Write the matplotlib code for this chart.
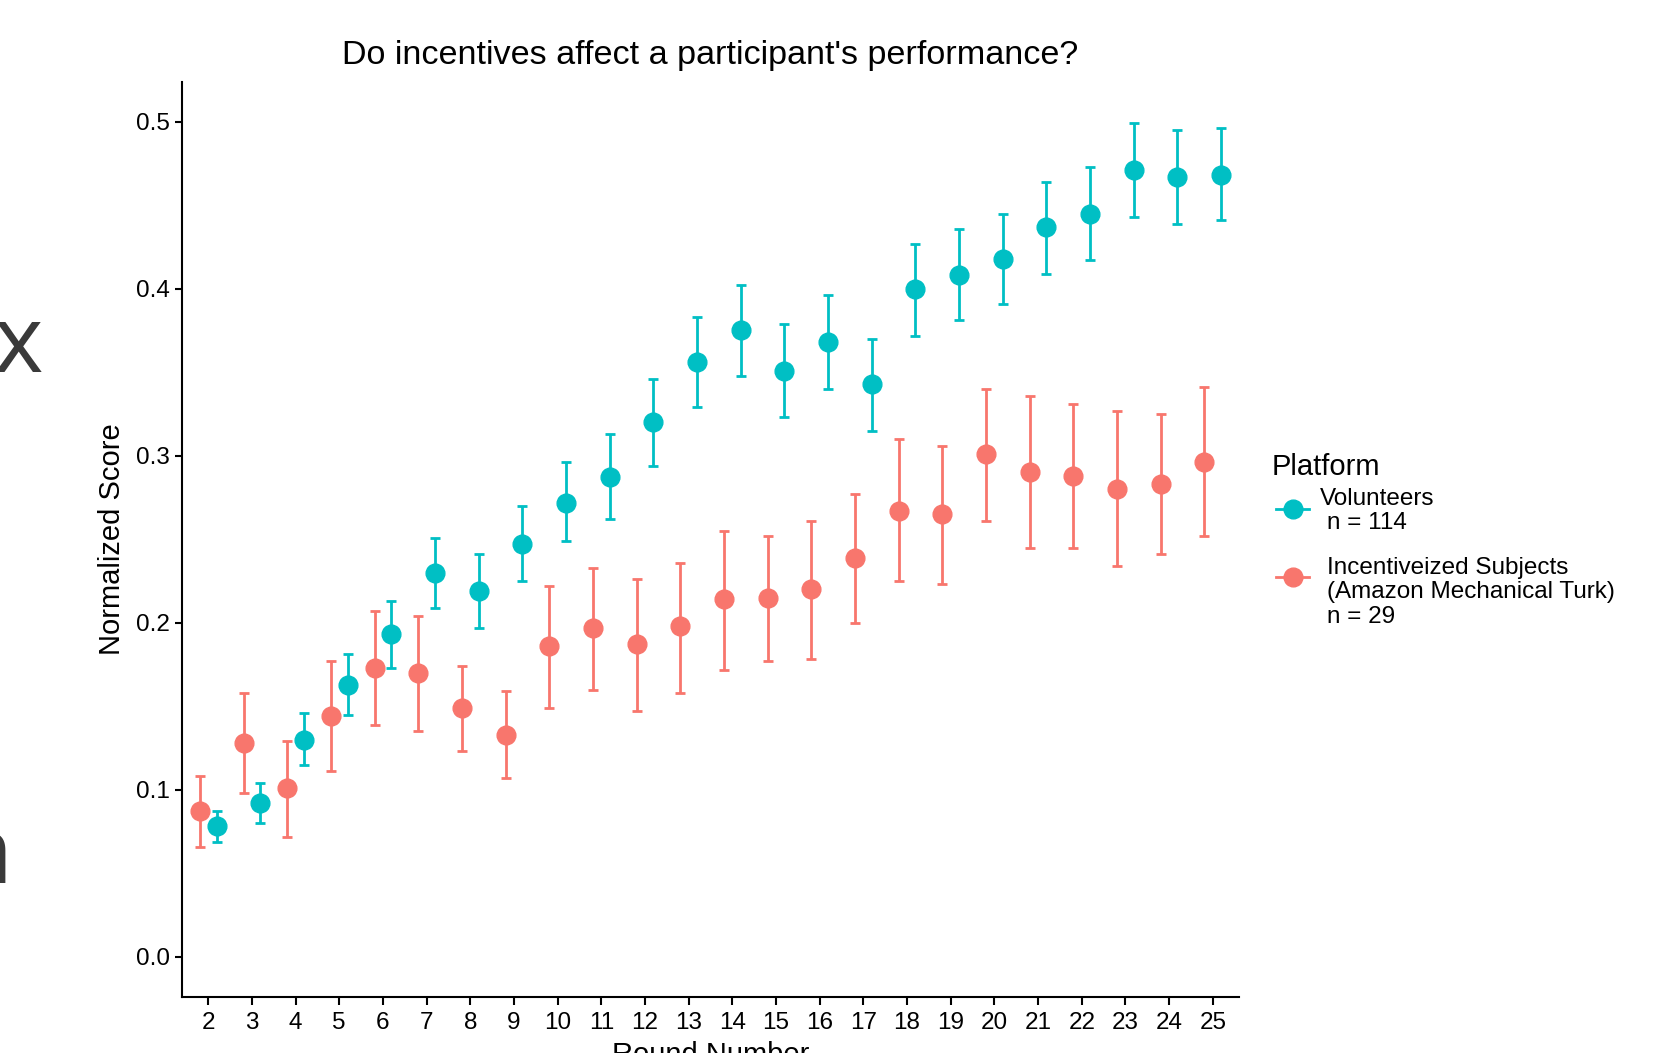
import numpy as np
import matplotlib
matplotlib.use("Agg")
import matplotlib.pyplot as plt
from matplotlib.lines import Line2D

plt.rcParams['font.family'] = ['Liberation Sans', 'DejaVu Sans']

# data
rounds = np.arange(2, 26)

vol_mean = [0.078, 0.092, 0.130, 0.163, 0.193, 0.230, 0.219, 0.247, 0.272, 0.287, 0.320, 0.356,
            0.375, 0.351, 0.368, 0.343, 0.400, 0.408, 0.418, 0.437, 0.445, 0.471, 0.467, 0.468]
vol_lo = [0.069, 0.080, 0.115, 0.145, 0.173, 0.209, 0.197, 0.225, 0.249, 0.262, 0.294, 0.329,
          0.348, 0.323, 0.340, 0.315, 0.372, 0.381, 0.391, 0.409, 0.417, 0.443, 0.439, 0.441]
vol_hi = [0.087, 0.104, 0.146, 0.181, 0.213, 0.251, 0.241, 0.270, 0.296, 0.313, 0.346, 0.383,
          0.402, 0.379, 0.396, 0.370, 0.427, 0.436, 0.445, 0.464, 0.473, 0.499, 0.495, 0.496]

inc_mean = [0.087, 0.128, 0.101, 0.144, 0.173, 0.170, 0.149, 0.133, 0.186, 0.197, 0.187, 0.198,
            0.214, 0.215, 0.220, 0.239, 0.267, 0.265, 0.301, 0.290, 0.288, 0.280, 0.283, 0.296]
inc_lo = [0.066, 0.098, 0.072, 0.111, 0.139, 0.135, 0.123, 0.107, 0.149, 0.160, 0.147, 0.158,
          0.172, 0.177, 0.178, 0.200, 0.225, 0.223, 0.261, 0.245, 0.245, 0.234, 0.241, 0.252]
inc_hi = [0.108, 0.158, 0.129, 0.177, 0.207, 0.204, 0.174, 0.159, 0.222, 0.233, 0.226, 0.236,
          0.255, 0.252, 0.261, 0.277, 0.310, 0.306, 0.340, 0.336, 0.331, 0.327, 0.325, 0.341]

teal = "#00BFC4"
red = "#F8766D"

W, H = 1659, 1053
fig = plt.figure(figsize=(W / 100, H / 100), dpi=100)

def fx(px):
    return px / W

def fy(py):
    return 1 - py / H

ax = fig.add_axes([fx(182), fy(997), (1239 - 182) / W, (997 - 81.5) / H])

dodge = 0.19
vm, inm = np.array(vol_mean), np.array(inc_mean)
ax.errorbar(rounds - dodge, inm, yerr=[inm - np.array(inc_lo), np.array(inc_hi) - inm],
            fmt='o', color=red, ms=13.5, elinewidth=2.0, capsize=3.9, capthick=2.0)
ax.errorbar(rounds + dodge, vm, yerr=[vm - np.array(vol_lo), np.array(vol_hi) - vm],
            fmt='o', color=teal, ms=13.5, elinewidth=2.0, capsize=3.9, capthick=2.0)

ax.set_xlim(1.4, 25.6)
ax.set_ylim(-0.0241, 0.5241)
ax.set_xticks(rounds)
ax.set_yticks([0.0, 0.1, 0.2, 0.3, 0.4, 0.5])
ax.set_yticklabels(["0.0", "0.1", "0.2", "0.3", "0.4", "0.5"])
ax.tick_params(labelsize=17.5, length=5.4, width=1.5, colors='black')
ax.tick_params(axis='x', pad=5.5)
ax.tick_params(axis='y', pad=3)
for s in ['top', 'right']:
    ax.spines[s].set_visible(False)
for s in ['left', 'bottom']:
    ax.spines[s].set_linewidth(1.5)

ax.set_title("Do incentives affect a participant's performance?", fontsize=24.6, pad=12.8)
ax.set_xlabel("Round Number", fontsize=21)
ax.set_ylabel("Normalized Score", fontsize=21)
ax.xaxis.set_label_coords(0.5, -0.048)
ax.yaxis.set_label_coords(-0.053, 0.5)

# legend drawn by hand to follow the reference layout
fig.text(fx(1272), fy(466.6), "Platform", fontsize=21, va='center', ha='left')
entries = [(teal, 509, [(1320, "Volunteers"), (1327, "n = 114")], 504.6),
           (red, 576.7, [(1327, "Incentiveized Subjects"), (1327, "(Amazon Mechanical Turk)"),
                         (1327, "n = 29")], 573.6)]
for col, ky, lines, base in entries:
    fig.add_artist(Line2D([fx(1276), fx(1309)], [fy(ky), fy(ky)], color=col, lw=2.0))
    fig.add_artist(Line2D([fx(1292.7)], [fy(ky)], marker='o', ms=13.5, color=col, lw=0))
    for i, (lx, txt) in enumerate(lines):
        fig.text(fx(lx), fy(base + 24.5 * i), txt, fontsize=17.5, va='baseline', ha='left')

# fragments of slide text cut by the left edge
fig.text(fx(43), fy(372), "x", fontsize=68, color="#3a3a3a", ha='right', va='baseline',
         family='Open Sans', weight='medium')
fig.text(fx(13), fy(883), "n", fontsize=68, color="#3a3a3a", ha='right', va='baseline',
         family='Open Sans', weight='medium')

fig.savefig("out.png", dpi=100)
